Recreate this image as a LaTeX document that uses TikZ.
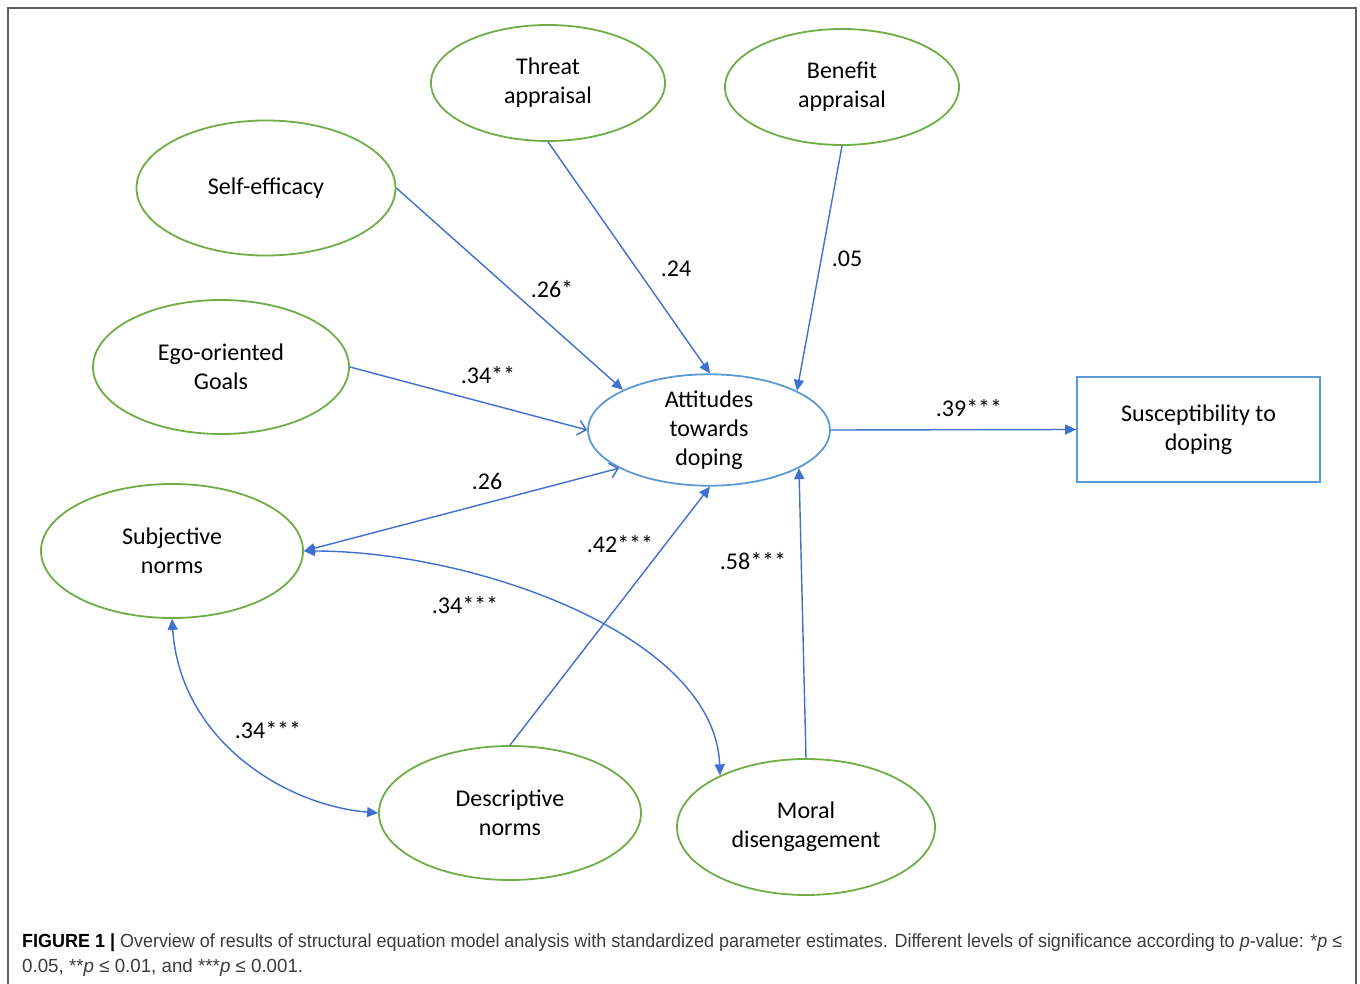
\documentclass[tikz,border=0pt]{standalone}
\usepackage{fontspec}
\usepackage{graphicx}
\setmainfont{Carlito}
\newfontfamily\capfont{Liberation Sans}
\usetikzlibrary{shapes.geometric,arrows.meta}
\definecolor{grn}{HTML}{70AD47}
\definecolor{edgeblue}{HTML}{3F6FD1}
\definecolor{lblue}{HTML}{5B9BD5}
\definecolor{framegray}{HTML}{5E5E5E}
\definecolor{captxt}{HTML}{3C3C3C}
\begin{document}
\begin{tikzpicture}[x=1pt,y=-1pt,
  lat/.style={ellipse,draw=grn,line width=1.8pt,inner sep=0pt,align=center,
    font=\fontsize{24}{29}\selectfont},
  edge/.style={draw=edgeblue,line width=1.4pt},
  ftip/.tip={Triangle[length=11pt,width=10pt]},
  otip/.tip={Straight Barb[length=8pt,width=15pt,line width=1.4pt]},
  lbl/.style={inner sep=0pt,font=\fontsize{24}{29}\selectfont}
]
\useasboundingbox (0,0) rectangle (1360,984);
\fill[white] (0,0) rectangle (1360,984);
% frame
\draw[framegray,line width=2pt] (8,984) -- (8,8) -- (1356,8) -- (1356,984);

% nodes
\node[lat,minimum width=234pt,minimum height=116pt] (threat) at (548,83) {Threat\\appraisal};
\node[lat,minimum width=234pt,minimum height=116pt] (benefit) at (842,87) {Benefit\\appraisal};
\node[lat,minimum width=259pt,minimum height=135pt] (self) at (266,188) {Self-efficacy};
\node[lat,minimum width=256pt,minimum height=134pt] (ego) at (221,367) {Ego-oriented\\Goals};
\node[lat,draw=lblue,minimum width=242pt,minimum height=104pt] (att) at (709,430) {Attitudes\\towards\\doping};
\node[lat,minimum width=262pt,minimum height=134pt] (subj) at (172,551) {Subjective\\norms};
\node[lat,minimum width=262pt,minimum height=134pt] (desc) at (510,813) {Descriptive\\norms};
\node[lat,minimum width=258pt,minimum height=136pt] (moral) at (806,827) {Moral\\disengagement};
\node[rectangle,draw=lblue,line width=1.8pt,minimum width=243pt,minimum height=105pt,
  align=center,inner sep=0pt,font=\fontsize{24}{29}\selectfont] (sus) at (1198.5,429.5) {Susceptibility to\\doping};

% edges
\draw[edge,-ftip] (self.east) -- (att.155);
\draw[edge,-ftip] (threat.south) -- (att.89);
\draw[edge,-ftip] (benefit.south) -- (att.24);
\draw[edge,-otip] (ego.east) -- (att.180);
\draw[edge,ftip-otip] (subj.east) -- (att.203);
\draw[edge,-ftip] (desc.north) -- (att.271);
\draw[edge,-ftip] (moral.north) -- (att.337);
\draw[edge,-ftip] (att.east) -- (sus.west);
\draw[edge,ftip-ftip] (subj.east) .. controls +(170,0) and +(-5,-140) .. (moral.149);
\draw[edge,ftip-ftip] (subj.south) .. controls +(8,120) and +(-95,-8) .. (desc.west);

% labels
\node[lbl] (l1) at (552,289) {.26*};
\node[lbl] (l2) at (676,269) {.24};
\node[lbl] (l3) at (847,259) {.05};
\node[lbl] (l4) at (488,375) {.34**};
\node[lbl] (l5) at (487,481) {.26};
\node[lbl] (l6) at (620,544) {.42***};
\node[lbl] (l7) at (753,561) {.58***};
\node[lbl] (l8) at (969,408) {.39***};
\node[lbl] (l9) at (465,605) {.34***};
\node[lbl] (l10) at (268,730) {.34***};

% caption
\node[anchor=base west,inner sep=0pt,text=captxt,font=\capfont\fontsize{19}{24}\selectfont] (cap1) at (22,947)
  {\resizebox{1320pt}{\height}{\textbf{\color{black}FIGURE 1 |} Overview of results of structural equation model analysis with standardized parameter estimates. Different levels of significance according to \textit{p}-value: *\textit{p} ≤}};
\node[anchor=base west,inner sep=0pt,text=captxt,font=\capfont\fontsize{19}{24}\selectfont] (cap2) at (22,972)
  {\resizebox{281pt}{\height}{0.05, **\textit{p} ≤ 0.01, and ***\textit{p} ≤ 0.001.}};
\end{tikzpicture}
\end{document}
